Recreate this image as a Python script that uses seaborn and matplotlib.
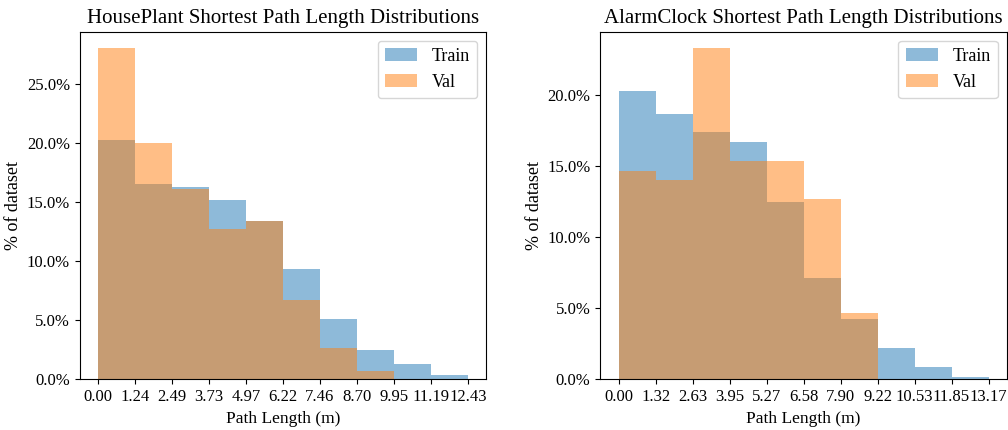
"""
Distributions des longueurs de plus court chemin (Train vs Val).
"""

import matplotlib

matplotlib.use("Agg")
import matplotlib.pyplot as plt
import numpy as np
import pandas as pd
import seaborn as sns
from matplotlib.ticker import PercentFormatter

# -- Donnees (en % du dataset, 10 bins) -----------------------------------------
objects = ["HousePlant", "AlarmClock"]
max_lengths = [12.434, 13.166]

houseplant_train = [20.26, 16.54, 16.28, 15.16, 13.41, 9.34, 5.08, 2.46, 1.27, 0.37]
houseplant_val = [27.97, 19.98, 16.06, 12.73, 13.35, 6.66, 2.68, 0.71, 0.0, 0.0]

alarmclock_train = [20.28, 18.68, 17.43, 16.68, 12.51, 7.11, 4.21, 2.19, 0.85, 0.16]
alarmclock_val = [14.70, 14.04, 23.31, 15.36, 15.36, 12.70, 4.68, 0.0, 0.0, 0.0]

train_values = [houseplant_train, alarmclock_train]
val_values = [houseplant_val, alarmclock_val]

plt.rcParams["font.family"] = ["Liberation Serif", "DejaVu Serif"]
plt.rcParams["font.size"] = 12

fig, axes = plt.subplots(1, 2, figsize=(10.08, 4.3), dpi=100)
fig.subplots_adjust(left=0.079, right=0.999, bottom=0.118, top=0.926, wspace=0.28)

for ax, name, max_len, train, val in zip(axes, objects, max_lengths, train_values, val_values):
    edges = np.linspace(0, max_len, len(train) + 1)
    centers = (edges[:-1] + edges[1:]) / 2
    df = pd.DataFrame({"length": centers, "train": train, "val": val})

    sns.histplot(data=df, x="length", weights="train", bins=list(edges),
                 color="#1f77b4", alpha=0.5, linewidth=0, label="Train", ax=ax)
    sns.histplot(data=df, x="length", weights="val", bins=list(edges),
                 color="#ff7f0e", alpha=0.5, linewidth=0, label="Val", ax=ax)

    ax.set_xticks(edges)
    ax.set_xticklabels([f"{e:.2f}" for e in edges])
    ax.yaxis.set_major_formatter(PercentFormatter(decimals=1))
    ax.set_xlabel("Path Length (m)", fontsize=12.5)
    ax.set_ylabel("% of dataset", fontsize=13, labelpad=3)
    ax.set_title(f"{name} Shortest Path Length Distributions", fontsize=15)
    ax.legend(loc="upper right", fontsize=13, handlelength=1.8)

plt.savefig("out.png", dpi=100)
plt.close()
